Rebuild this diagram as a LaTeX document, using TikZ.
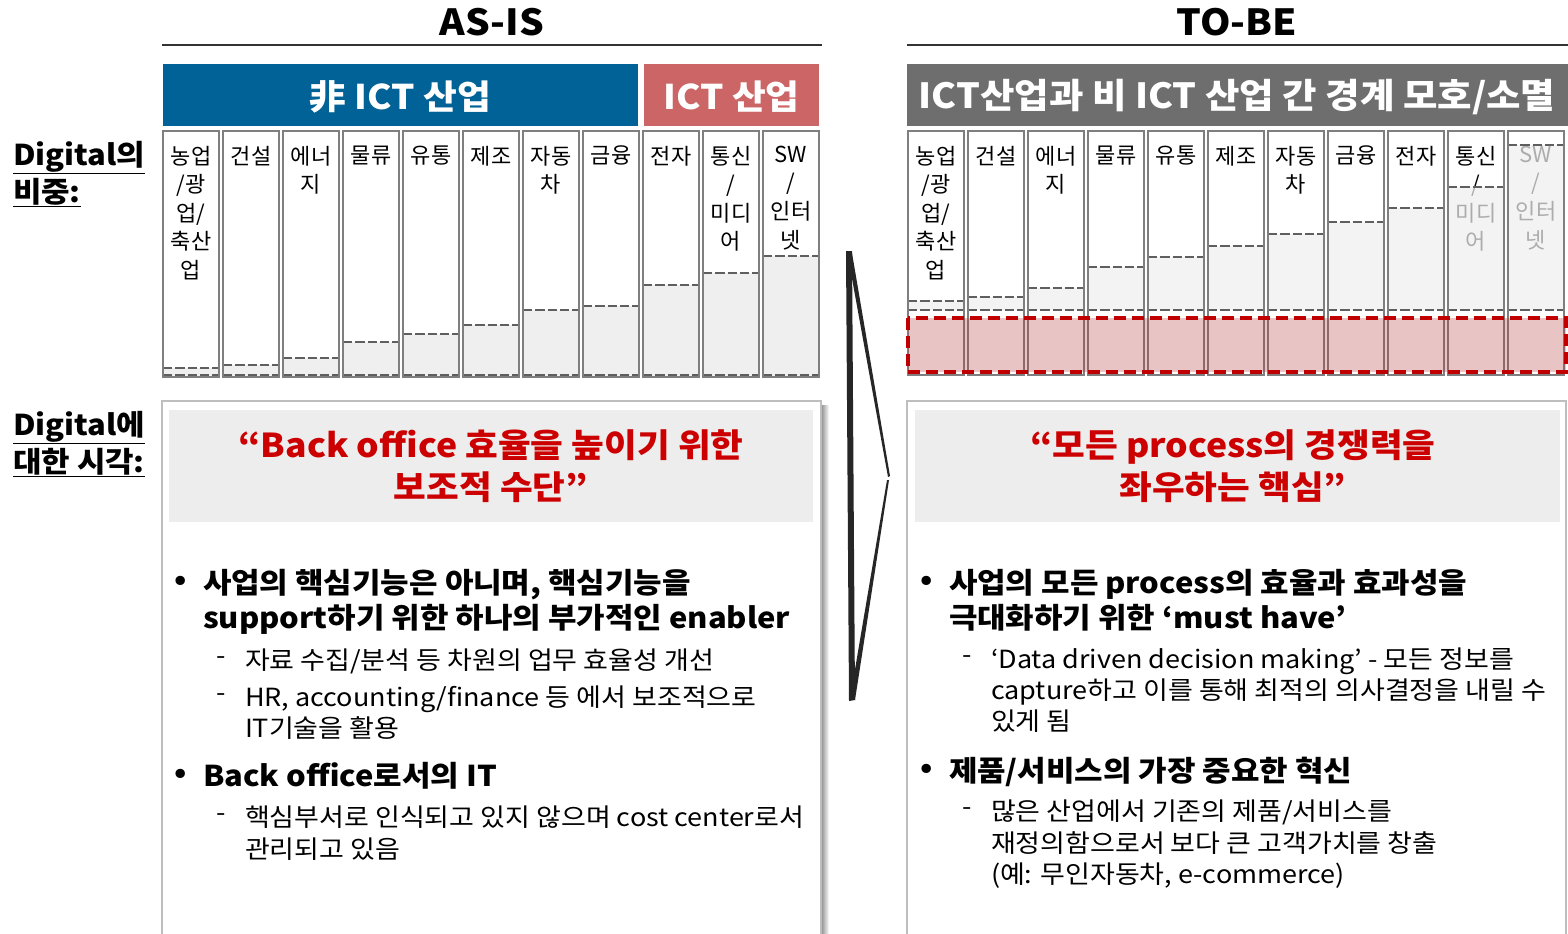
\documentclass[tikz,border=0pt]{standalone}
\usepackage{fontspec}
\setmainfont{Noto Sans CJK KR}[FakeStretch=1.08]
\newfontfamily\plainfont{Noto Sans CJK KR}
\usetikzlibrary{calc}
\definecolor{ictblue}{RGB}{0,98,150}
\definecolor{ictred}{RGB}{204,102,102}
\definecolor{hdrgray}{RGB}{110,110,110}
\definecolor{qred}{RGB}{204,0,0}
\definecolor{boxred}{RGB}{192,0,0}
\definecolor{pinkbase}{RGB}{180,60,60}
\definecolor{bannergray}{RGB}{237,237,237}
\definecolor{colgray}{RGB}{127,127,127}
\definecolor{fillgray}{RGB}{239,239,239}
\definecolor{dashgray}{RGB}{95,95,95}
\definecolor{panelgray}{RGB}{190,190,190}
\begin{document}
\begin{tikzpicture}[x=0.75pt,y=-0.75pt,
  every node/.style={inner sep=0pt, outer sep=0pt},
  titletext/.style={font=\bfseries\fontsize{27}{30}\selectfont},
  titlerule/.style={line width=2.2pt, black!80},
  hdrtext/.style={font=\bfseries\fontsize{25.5}{28}\selectfont, text=white, yshift=-1.5pt},
  hdrtextb/.style={font=\bfseries\fontsize{26}{28}\selectfont, text=white, yshift=-1.5pt},
  colbox/.style={draw=colgray, line width=1.9pt},
  levelline/.style={draw=dashgray, line width=1.5pt, dash pattern=on 7pt off 2.2pt},
  collabel/.style={font=\plainfont\fontsize{16.5}{21.4}\selectfont, align=center, anchor=north},
  sidelabel/.style={font=\bfseries\fontsize{21.5}{26}\selectfont, anchor=west, yshift=-2pt},
  panel/.style={draw=panelgray, line width=0.9pt, fill=white},
  banner/.style={fill=bannergray},
  quotetext/.style={font=\bfseries\fontsize{24.7}{30}\selectfont, text=qred, text height=18pt, text depth=4.5pt, yshift=-2.2pt},
  bultext/.style={font=\bfseries\fontsize{21.5}{26}\selectfont, anchor=west, text height=17.2pt, text depth=4.3pt, yshift=-2.2pt},
  bulmark/.style={font=\bfseries\fontsize{21.5}{26}\selectfont, anchor=center, yshift=-1pt},
  subtext/.style={font=\fontsize{18.75}{23}\selectfont, anchor=west, text height=15pt, text depth=3.75pt, yshift=-2pt},
  submark/.style={font=\fontsize{18.75}{23}\selectfont, anchor=center, yshift=-1pt},
  redbox/.style={draw=boxred, line width=2.3pt, dash pattern=on 9pt off 4.5pt, fill=pinkbase, fill opacity=0.3}
]
\useasboundingbox (0,0) rectangle (1568,933);

% ---------------- titles
\node[titletext] (asis) at (492,22) {AS-IS};
\node[titletext] (tobe) at (1237,22) {TO-BE};
\coordinate (ral) at (162,45); \coordinate (rar) at (822,45);
\coordinate (rbl) at (907,45); \coordinate (rbr) at (1568,45);
\draw[titlerule] (ral) -- (rar);
\draw[titlerule] (rbl) -- (rbr);

% ---------------- header bars
\fill[ictblue] (163,64) rectangle (638,126);
\fill[ictred] (644,64) rectangle (819,126);
\fill[hdrgray] (907,64) rectangle (1568,126);
\node[hdrtext] (hnonict) at (400.5,95) {非 ICT 산업};
\node[hdrtext] (hict) at (731.5,95) {ICT 산업};
\node[hdrtextb] (hblur) at (1237,95) {ICT산업과 비 ICT 산업 간 경계 모호/소멸};

% ---------------- side labels
\node[sidelabel] (s1a) at (13,155) {\underline{Digital의}};
\node[sidelabel] (s1b) at (13,190) {\underline{비중:}};
\node[sidelabel] (s2a) at (13,425) {\underline{Digital에}};
\node[sidelabel] (s2b) at (13,460) {\underline{대한 시각:}};

% ---------------- AS-IS columns
\foreach \i/\lv/\lab in {0/368/{농업\\/광\\업/\\축산\\업},1/365/{건설},2/358/{에너\\지},3/342/{물류},4/334/{유통},5/325/{제조},6/310/{자동\\차},7/306/{금융},8/285/{전자},9/273/{통신\\/\\미디\\어},10/256/{SW\\/\\인터\\넷}}{
  \pgfmathsetmacro\xa{163+60*\i}
  \fill[fillgray] (\xa,\lv) rectangle (\xa+56,377);
  \draw[levelline] (\xa,\lv) -- (\xa+56,\lv);
  \draw[levelline] (\xa,375) -- (\xa+56,375);
  \draw[colbox] (\xa,131) rectangle (\xa+56,377);
  \node[collabel] (A\i) at (\xa+28,146) {\lab};
}

% ---------------- TO-BE columns
\foreach \i/\lv/\lab in {0/301/{농업\\/광\\업/\\축산\\업},1/297/{건설},2/288/{에너\\지},3/267/{물류},4/257/{유통},5/246/{제조},6/234/{자동\\차},7/222/{금융},8/208/{전자},9/187/{통신\\/\\미디\\어},10/145/{SW\\/\\인터\\넷}}{
  \pgfmathsetmacro\xa{908+60*\i}
  \node[collabel] (B\i) at (\xa+28,146) {\lab};
  \fill[fillgray, fill opacity=0.72] (\xa,\lv) rectangle (\xa+56,310);
  \draw[levelline] (\xa,\lv) -- (\xa+56,\lv);
  \draw[levelline] (\xa,310) -- (\xa+56,310);
  \draw[colbox] (\xa,131) rectangle (\xa+56,375);
}
\draw[redbox] (908,318) rectangle (1566,372);

% ---------------- middle chevron
\coordinate (ct) at (849,252);
\coordinate (cp) at (889,478);
\coordinate (cb) at (852,700);
\fill[black!85] (846,251) -- (852,251) -- (855,700) -- (849,701) -- cycle;
\fill[black!85] (847,251) -- (852,253) -- (890,476) -- (888,477) -- cycle;
\fill[black!85] (889,480) -- (887,480) -- (850,699) -- (855,700) -- cycle;

% ---------------- panels
\shade[left color=black!45, right color=white] (821,405) rectangle (829,933);
\draw[panel] (162,401) rectangle (821,940);
\draw[panel] (907,401) rectangle (1566,940);
\fill[banner] (169,410) rectangle (813,522);
\fill[banner] (915,410) rectangle (1560,522);

\node[quotetext] (q1a) at (491,446) {“Back office 효율을 높이기 위한};
\node[quotetext] (q1b) at (491,488) {보조적 수단”};
\node[quotetext] (q2a) at (1233,446) {“모든 process의 경쟁력을};
\node[quotetext] (q2b) at (1233,488) {좌우하는 핵심”};

% left panel text
\node[bulmark] (lb1) at (181,582) {•};
\node[bultext] (lt1) at (203,582) {사업의 핵심기능은 아니며, 핵심기능을};
\node[bultext] (lt2) at (203,617) {support하기 위한 하나의 부가적인 enabler};
\node[submark] (ld1) at (221,659) {-};
\node[subtext] (ls1) at (245,659) {자료 수집/분석 등 차원의 업무 효율성 개선};
\node[submark] (ld2) at (221,696) {-};
\node[subtext] (ls2) at (245,696) {HR, accounting/finance 등 에서 보조적으로};
\node[subtext] (ls3) at (245,727) {IT기술을 활용};
\node[bulmark] (lb2) at (181,775) {•};
\node[bultext] (lt3) at (203,775) {Back office로서의 IT};
\node[submark] (ld3) at (221,816) {-};
\node[subtext] (ls4) at (245,816) {핵심부서로 인식되고 있지 않으며 cost center로서};
\node[subtext] (ls5) at (245,848) {관리되고 있음};

% right panel text
\node[bulmark] (rb1) at (927,582) {•};
\node[bultext] (rt1) at (949,582) {사업의 모든 process의 효율과 효과성을};
\node[bultext] (rt2) at (949,617) {극대화하기 위한 ‘must have’};
\node[submark] (rd1) at (967,658) {-};
\node[subtext] (rs1) at (991,658) {‘Data driven decision making’ - 모든 정보를};
\node[subtext] (rs2) at (991,689) {capture하고 이를 통해 최적의 의사결정을 내릴 수};
\node[subtext] (rs3) at (991,720) {있게 됨};
\node[bulmark] (rb2) at (927,770) {•};
\node[bultext] (rt3) at (949,770) {제품/서비스의 가장 중요한 혁신};
\node[submark] (rd2) at (967,810) {-};
\node[subtext] (rs4) at (991,810) {많은 산업에서 기존의 제품/서비스를};
\node[subtext] (rs5) at (991,842) {재정의함으로서 보다 큰 고객가치를 창출};
\node[subtext] (rs6) at (991,873) {(예: 무인자동차, e-commerce)};
\end{tikzpicture}
\end{document}
